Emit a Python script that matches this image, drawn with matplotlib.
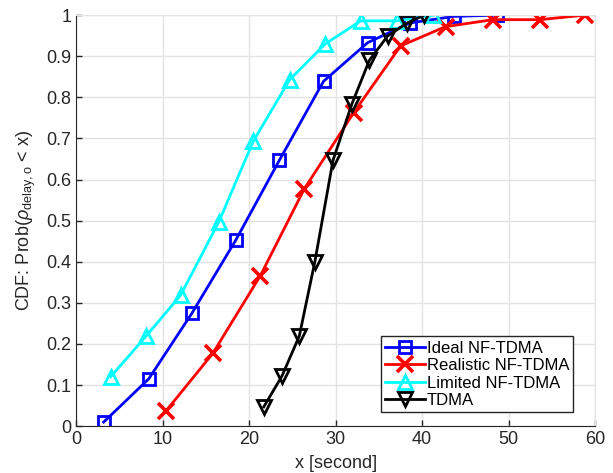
import matplotlib
matplotlib.use("Agg")
import matplotlib.pyplot as plt
import numpy as np

plt.rcParams["font.family"] = ["Liberation Sans", "DejaVu Sans"]
plt.rcParams["mathtext.fontset"] = "custom"
plt.rcParams["mathtext.rm"] = "Liberation Sans"
plt.rcParams["mathtext.it"] = "Liberation Sans:italic"

# data
ideal_x = [3.2, 8.4, 13.4, 18.5, 23.5, 28.6, 33.7, 38.6, 43.7, 48.7]
ideal_y = [0.01, 0.115, 0.275, 0.454, 0.647, 0.839, 0.933, 0.981, 0.997, 1.0]

real_x = [10.4, 15.8, 21.3, 26.4, 32.1, 37.5, 42.7, 48.2, 53.6, 58.8]
real_y = [0.037, 0.177, 0.366, 0.578, 0.763, 0.925, 0.972, 0.989, 0.989, 1.0]

lim_x = [4.0, 8.1, 12.1, 16.5, 20.5, 24.7, 28.8, 32.9, 37.1, 41.3]
lim_y = [0.12, 0.219, 0.319, 0.497, 0.694, 0.843, 0.93, 0.986, 0.986, 1.0]

tdma_x = [21.7, 23.8, 25.8, 27.6, 29.7, 31.9, 33.9, 36.0, 38.2, 40.2]
tdma_y = [0.047, 0.122, 0.219, 0.40, 0.647, 0.785, 0.89, 0.949, 0.98, 1.0]

labels = ["Ideal NF-TDMA", "Realistic NF-TDMA", "Limited NF-TDMA", "TDMA"]

fig = plt.figure(figsize=(6.13, 4.73), dpi=100)
ax = fig.add_axes([0.124, 0.099, 0.847, 0.869])

kw = dict(linewidth=2.0, markeredgewidth=2.0, markerfacecolor="none")
ax.plot(ideal_x, ideal_y, "s-", color="#0000ff", label=labels[0], markersize=9, **kw)
ax.plot(real_x, real_y, "x-", color="#ff0000", label=labels[1],
        linewidth=2.0, markersize=11, markeredgewidth=2.6)
ax.plot(lim_x, lim_y, "^-", color="#00ffff", label=labels[2], markersize=10.5, **kw)
ax.plot(tdma_x, tdma_y, "v-", color="#000000", label=labels[3], markersize=10.5, **kw)

ax.set_xlim(0, 60)
ax.set_ylim(0, 1)
ax.set_xticks(np.arange(0, 61, 10))
ax.set_yticks(np.arange(0, 1.01, 0.1))
ax.set_yticklabels(["0", "0.1", "0.2", "0.3", "0.4", "0.5", "0.6", "0.7", "0.8", "0.9", "1"])
ax.grid(True, color="#e3e3e3", linewidth=1.0)
ax.set_axisbelow(True)
ax.tick_params(direction="in", length=4, labelsize=13, colors="#262626", width=1.0)
for s in ["left", "bottom"]:
    ax.spines[s].set_color("#262626")
for s in ["top", "right"]:
    ax.spines[s].set_color("#e3e3e3")

ax.set_xlabel("x [second]", fontsize=13, color="#262626", labelpad=5)
ax.set_ylabel(r"CDF: Prob($\rho_{\mathrm{delay,o}}$ < x)", fontsize=13, color="#262626", labelpad=6)

leg = ax.legend(loc="lower right", bbox_to_anchor=(0.958, 0.034), fontsize=12,
                frameon=True, fancybox=False, framealpha=1,
                edgecolor="#262626", handlelength=2.4, handletextpad=0.1,
                labelspacing=0.15, borderpad=0.25, borderaxespad=0.0)
leg.get_frame().set_linewidth(1.0)

plt.savefig("out.png", dpi=100)
